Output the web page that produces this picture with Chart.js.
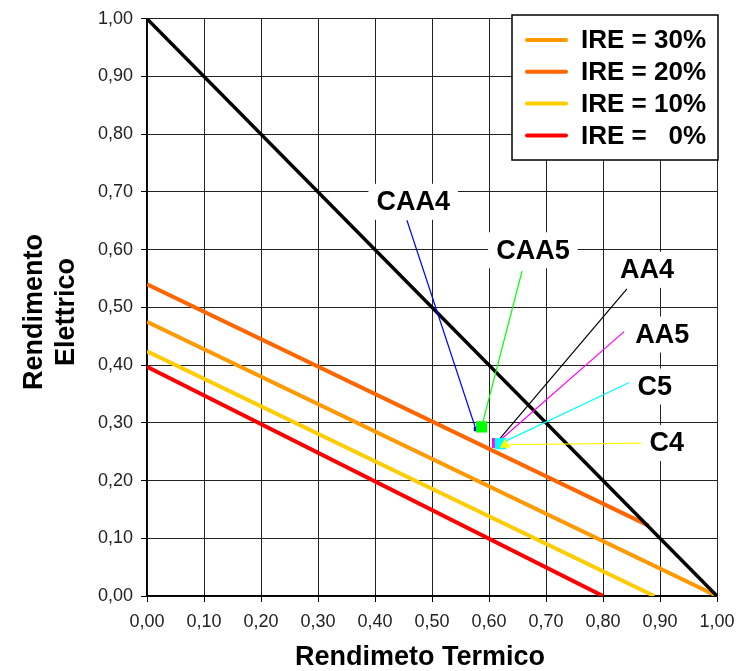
<!DOCTYPE html>
<html><head><meta charset="utf-8">
<script src="https://cdn.jsdelivr.net/npm/chart.js@4/dist/chart.umd.min.js"></script>
<style>html,body{margin:0;padding:0;background:#fff}#wrap{width:748px;height:671px}</style>
</head><body>
<div id="wrap"><canvas id="c"></canvas></div>
<script>
// ---- data ----
const ireNames  = ['IRE = 30%', 'IRE = 20%', 'IRE = 10%', 'IRE =   0%'];
const ireColors = ['#FF9900', '#FF6600', '#FFCC00', '#FF0000'];
const ire30X = [0, 1.00];  const ire30Y = [0.475, 0.00];
const ire20X = [0, 0.88];  const ire20Y = [0.540, 0.122];
const ire10X = [0, 0.89];  const ire10Y = [0.424, 0.00];
const ire0X  = [0, 0.80];  const ire0Y  = [0.397, 0.00];
const limitX = [0, 1.00];  const limitY = [1.00, 0.00];

const pointNames  = ['CAA4', 'CAA5', 'AA4', 'AA5', 'C5', 'C4'];
const pointX      = [0.577, 0.587, 0.615, 0.614, 0.620, 0.628];
const pointY      = [0.289, 0.293, 0.268, 0.265, 0.264, 0.262];
const pointColors = ['#0000FF', '#00FF00', '#000000', '#FF00FF', '#00FFFF', '#FFFF00'];
// label anchor (text centre) and leader line start, in data units
const labelX  = [0.467, 0.677, 0.877, 0.904, 0.891, 0.912];
const labelY  = [0.683, 0.599, 0.565, 0.453, 0.363, 0.265];
const leaderX = [0.456, 0.658, 0.842, 0.837, 0.846, 0.867];
const leaderY = [0.651, 0.563, 0.532, 0.458, 0.370, 0.265];

const tickMin = 0, tickMax = 1, tickStep = 0.1;
const xTitle = 'Rendimeto Termico';
const yTitle = ['Rendimento', 'Elettrico'];

// ---- build datasets ----
const pts = (xs, ys) => xs.map((x, i) => ({x, y: ys[i]}));
const datasets = [];
const ireX = [ire30X, ire20X, ire10X, ire0X], ireY = [ire30Y, ire20Y, ire10Y, ire0Y];
ireNames.forEach((n, i) => datasets.push({
  label: n, data: pts(ireX[i], ireY[i]), showLine: true, borderColor: ireColors[i],
  borderWidth: 4, pointRadius: 0, order: 20
}));
datasets.push({label: 'limit', data: pts(limitX, limitY), showLine: true, borderColor: '#000',
  borderWidth: 3.5, pointRadius: 0, order: 15});
pointNames.forEach((n, i) => datasets.push({
  label: n + ' leader', data: [{x: leaderX[i], y: leaderY[i]}, {x: pointX[i], y: pointY[i]}],
  showLine: true, borderColor: pointColors[i], borderWidth: 1.2, pointRadius: 0, order: 12
}));
const markerStyle = ['rect', 'rect', 'rect', 'rect', 'rect', 'triangle'];
const markerRadius = [3, 8, 3, 7, 8, 6];
const markerOrder = [10, 9, 8, 7, 6, 5];
pointNames.forEach((n, i) => datasets.push({
  label: n, data: [{x: pointX[i], y: pointY[i]}], showLine: false,
  pointStyle: markerStyle[i], pointRadius: markerRadius[i], pointBackgroundColor: pointColors[i],
  pointBorderWidth: 0, pointBorderColor: pointColors[i], order: markerOrder[i]
}));

const fmt = v => (Math.round(v * 100) / 100).toFixed(2).replace('.', ',');
const FAM = '"Liberation Sans", Arial, sans-serif';

const decor = {
  id: 'decor',
  afterDatasetsDraw(chart) {
    const ctx = chart.ctx, xs = chart.scales.x, ys = chart.scales.y;
    ctx.save();
    // point labels
    ctx.font = 'bold 27px ' + FAM;
    ctx.textAlign = 'center'; ctx.textBaseline = 'middle';
    pointNames.forEach((n, i) => {
      const cx = xs.getPixelForValue(labelX[i]), cy = ys.getPixelForValue(labelY[i]);
      const w = ctx.measureText(n).width;
      ctx.fillStyle = '#fff';
      ctx.fillRect(cx - w / 2 - 8, cy - 18, w + 16, 36);
      ctx.fillStyle = '#000';
      ctx.fillText(n, cx, cy + 1);
    });
    // legend
    const lx = 512, ly = 15, lw = 206, lh = 145;
    ctx.fillStyle = '#fff'; ctx.fillRect(lx, ly, lw, lh);
    ctx.strokeStyle = '#000'; ctx.lineWidth = 1.5; ctx.strokeRect(lx, ly, lw, lh);
    ctx.font = 'bold 26px ' + FAM;
    ctx.textAlign = 'left';
    ireNames.forEach((n, i) => {
      const y = 40 + i * 31.8;
      ctx.strokeStyle = ireColors[i]; ctx.lineWidth = 4; ctx.lineCap = 'round';
      ctx.beginPath(); ctx.moveTo(527, y); ctx.lineTo(566, y); ctx.stroke();
      ctx.fillStyle = '#000';
      ctx.fillText(n, 581, y + 1);
    });
    ctx.restore();
  },
  afterDraw(chart) {
    const ctx = chart.ctx;
    ctx.save();
    ctx.fillStyle = '#000';
    ctx.font = 'bold 27px ' + FAM;
    ctx.textAlign = 'center'; ctx.textBaseline = 'middle';
    ctx.fillText(xTitle, 420, 658);
    ctx.translate(0, 312); ctx.rotate(-Math.PI / 2);
    ctx.fillText(yTitle[0], 0, 35);
    ctx.fillText(yTitle[1], 0, 67);
    ctx.restore();
  }
};

const axisCommon = {
  type: 'linear', min: tickMin, max: tickMax,
  grid: {color: '#222', lineWidth: 1, drawTicks: true, tickLength: 6, tickColor: '#000'},
  border: {color: '#000', width: 1.5},
  ticks: {stepSize: tickStep, color: '#222', font: {size: 18, family: FAM},
    callback: v => fmt(v), maxRotation: 0, autoSkip: false}
};

new Chart(document.getElementById('c'), {
  type: 'scatter',
  data: {datasets},
  options: {
    responsive: true, maintainAspectRatio: false, animation: false,
    layout: {padding: {top: 15, right: 31, left: 0, bottom: 0}},
    plugins: {legend: {display: false}, tooltip: {enabled: false}},
    scales: {
      x: Object.assign({}, axisCommon, {ticks: Object.assign({}, axisCommon.ticks, {padding: 9}),
        afterFit: s => { s.height = 75; }}),
      y: Object.assign({}, axisCommon, {ticks: Object.assign({}, axisCommon.ticks, {padding: 8}),
        afterFit: s => { s.width = 147; }})
    }
  },
  plugins: [decor]
});
</script>
</body></html>
